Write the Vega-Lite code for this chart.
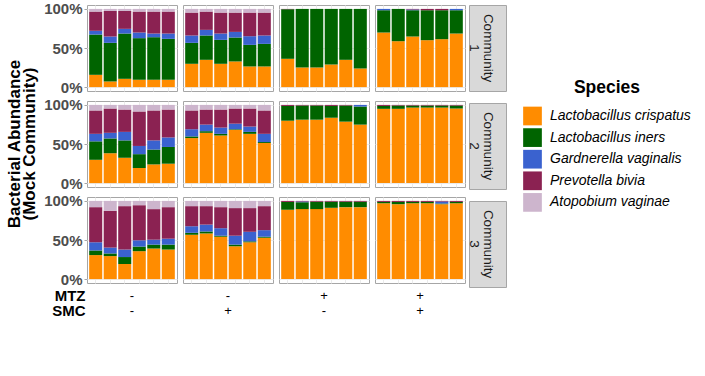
{
  "$schema": "https://vega.github.io/schema/vega-lite/v6.json",
  "padding": {"left": 5, "top": 1, "right": 5, "bottom": 5},
  "background": "white",
  "config": {
    "font": "Liberation Sans",
    "view": {"stroke": "#a6a6a6", "strokeWidth": 1}
  },
  "datasets": {
    "species": [
      {"sp": "LC", "species": "Lactobacillus crispatus", "k": 1},
      {"sp": "LI", "species": "Lactobacillus iners", "k": 2},
      {"sp": "GV", "species": "Gardnerella vaginalis", "k": 3},
      {"sp": "PB", "species": "Prevotella bivia", "k": 4},
      {"sp": "AV", "species": "Atopobium vaginae", "k": 5}
    ],
    "strips": [
      {"c": "1", "label": "Community\n1"},
      {"c": "2", "label": "Community\n2"},
      {"c": "3", "label": "Community\n3"}
    ],
    "signs": [
      {"t": "MTZ- SMC-", "drug": "MTZ", "sign": "-"},
      {"t": "MTZ- SMC-", "drug": "SMC", "sign": "-"},
      {"t": "MTZ- SMC+", "drug": "MTZ", "sign": "-"},
      {"t": "MTZ- SMC+", "drug": "SMC", "sign": "+"},
      {"t": "MTZ+ SMC-", "drug": "MTZ", "sign": "+"},
      {"t": "MTZ+ SMC-", "drug": "SMC", "sign": "-"},
      {"t": "MTZ+ SMC+", "drug": "MTZ", "sign": "+"},
      {"t": "MTZ+ SMC+", "drug": "SMC", "sign": "+"}
    ],
    "abund": [
      {"c": "1", "t": "MTZ- SMC-", "r": 1, "LC": 15.7, "LI": 51.5, "GV": 4.8, "PB": 24.6, "AV": 3.4},
      {"c": "1", "t": "MTZ- SMC-", "r": 2, "LC": 7.2, "LI": 49.4, "GV": 8.1, "PB": 32.7, "AV": 2.6},
      {"c": "1", "t": "MTZ- SMC-", "r": 3, "LC": 10.6, "LI": 57.9, "GV": 6.0, "PB": 22.9, "AV": 2.6},
      {"c": "1", "t": "MTZ- SMC-", "r": 4, "LC": 9.4, "LI": 53.2, "GV": 7.2, "PB": 26.8, "AV": 3.4},
      {"c": "1", "t": "MTZ- SMC-", "r": 5, "LC": 9.4, "LI": 54.4, "GV": 4.7, "PB": 28.1, "AV": 3.4},
      {"c": "1", "t": "MTZ- SMC-", "r": 6, "LC": 9.4, "LI": 52.3, "GV": 6.8, "PB": 28.1, "AV": 3.4},
      {"c": "1", "t": "MTZ- SMC+", "r": 1, "LC": 29.8, "LI": 26.8, "GV": 9.4, "PB": 29.3, "AV": 4.7},
      {"c": "1", "t": "MTZ- SMC+", "r": 2, "LC": 34.9, "LI": 31.1, "GV": 7.2, "PB": 23.4, "AV": 3.4},
      {"c": "1", "t": "MTZ- SMC+", "r": 3, "LC": 29.8, "LI": 30.6, "GV": 8.1, "PB": 26.8, "AV": 4.7},
      {"c": "1", "t": "MTZ- SMC+", "r": 4, "LC": 32.8, "LI": 30.6, "GV": 7.2, "PB": 24.7, "AV": 4.7},
      {"c": "1", "t": "MTZ- SMC+", "r": 5, "LC": 26.4, "LI": 27.6, "GV": 11.1, "PB": 30.2, "AV": 4.7},
      {"c": "1", "t": "MTZ- SMC+", "r": 6, "LC": 26.4, "LI": 28.9, "GV": 10.7, "PB": 29.3, "AV": 4.7},
      {"c": "1", "t": "MTZ+ SMC-", "r": 1, "LC": 36.2, "LI": 63.4, "GV": 0, "PB": 0.4, "AV": 0},
      {"c": "1", "t": "MTZ+ SMC-", "r": 2, "LC": 25.1, "LI": 74.9, "GV": 0, "PB": 0, "AV": 0},
      {"c": "1", "t": "MTZ+ SMC-", "r": 3, "LC": 25.1, "LI": 74.9, "GV": 0, "PB": 0, "AV": 0},
      {"c": "1", "t": "MTZ+ SMC-", "r": 4, "LC": 28.9, "LI": 71.1, "GV": 0, "PB": 0, "AV": 0},
      {"c": "1", "t": "MTZ+ SMC-", "r": 5, "LC": 34.9, "LI": 65.1, "GV": 0, "PB": 0, "AV": 0},
      {"c": "1", "t": "MTZ+ SMC-", "r": 6, "LC": 23.8, "LI": 76.2, "GV": 0, "PB": 0, "AV": 0},
      {"c": "1", "t": "MTZ+ SMC+", "r": 1, "LC": 69.8, "LI": 28.5, "GV": 1.7, "PB": 0, "AV": 0},
      {"c": "1", "t": "MTZ+ SMC+", "r": 2, "LC": 58.7, "LI": 41.3, "GV": 0, "PB": 0, "AV": 0},
      {"c": "1", "t": "MTZ+ SMC+", "r": 3, "LC": 64.7, "LI": 33.6, "GV": 1.0, "PB": 0.7, "AV": 0},
      {"c": "1", "t": "MTZ+ SMC+", "r": 4, "LC": 60.0, "LI": 38.3, "GV": 0, "PB": 1.7, "AV": 0},
      {"c": "1", "t": "MTZ+ SMC+", "r": 5, "LC": 61.3, "LI": 37.0, "GV": 0, "PB": 1.7, "AV": 0},
      {"c": "1", "t": "MTZ+ SMC+", "r": 6, "LC": 68.5, "LI": 29.8, "GV": 1.7, "PB": 0, "AV": 0},
      {"c": "2", "t": "MTZ- SMC-", "r": 1, "LC": 29.8, "LI": 23.6, "GV": 9.6, "PB": 29.9, "AV": 7.1},
      {"c": "2", "t": "MTZ- SMC-", "r": 2, "LC": 38.2, "LI": 18.9, "GV": 7.2, "PB": 31.1, "AV": 4.6},
      {"c": "2", "t": "MTZ- SMC-", "r": 3, "LC": 32.4, "LI": 22.2, "GV": 10.9, "PB": 28.6, "AV": 5.9},
      {"c": "2", "t": "MTZ- SMC-", "r": 4, "LC": 19.3, "LI": 17.7, "GV": 10.5, "PB": 44.1, "AV": 8.4},
      {"c": "2", "t": "MTZ- SMC-", "r": 5, "LC": 23.9, "LI": 19.0, "GV": 11.7, "PB": 38.3, "AV": 7.1},
      {"c": "2", "t": "MTZ- SMC-", "r": 6, "LC": 24.8, "LI": 21.4, "GV": 12.2, "PB": 35.7, "AV": 5.9},
      {"c": "2", "t": "MTZ- SMC+", "r": 1, "LC": 57.6, "LI": 2.1, "GV": 9.2, "PB": 24.0, "AV": 7.1},
      {"c": "2", "t": "MTZ- SMC+", "r": 2, "LC": 64.3, "LI": 2.1, "GV": 8.4, "PB": 19.3, "AV": 5.9},
      {"c": "2", "t": "MTZ- SMC+", "r": 3, "LC": 60.9, "LI": 2.1, "GV": 8.0, "PB": 23.1, "AV": 5.9},
      {"c": "2", "t": "MTZ- SMC+", "r": 4, "LC": 68.1, "LI": 0.8, "GV": 7.1, "PB": 19.4, "AV": 4.6},
      {"c": "2", "t": "MTZ- SMC+", "r": 5, "LC": 63.0, "LI": 2.5, "GV": 6.8, "PB": 23.1, "AV": 4.6},
      {"c": "2", "t": "MTZ- SMC+", "r": 6, "LC": 51.3, "LI": 1.2, "GV": 10.5, "PB": 29.9, "AV": 7.1},
      {"c": "2", "t": "MTZ+ SMC-", "r": 1, "LC": 79.8, "LI": 18.9, "GV": 0, "PB": 1.3, "AV": 0},
      {"c": "2", "t": "MTZ+ SMC-", "r": 2, "LC": 81.1, "LI": 18.1, "GV": 0, "PB": 0.8, "AV": 0},
      {"c": "2", "t": "MTZ+ SMC-", "r": 3, "LC": 81.1, "LI": 18.1, "GV": 0, "PB": 0.8, "AV": 0},
      {"c": "2", "t": "MTZ+ SMC-", "r": 4, "LC": 83.6, "LI": 15.1, "GV": 0, "PB": 1.3, "AV": 0},
      {"c": "2", "t": "MTZ+ SMC-", "r": 5, "LC": 78.6, "LI": 20.6, "GV": 0, "PB": 0.8, "AV": 0},
      {"c": "2", "t": "MTZ+ SMC-", "r": 6, "LC": 74.8, "LI": 23.1, "GV": 2.1, "PB": 0, "AV": 0},
      {"c": "2", "t": "MTZ+ SMC+", "r": 1, "LC": 95.0, "LI": 3.7, "GV": 0, "PB": 1.3, "AV": 0},
      {"c": "2", "t": "MTZ+ SMC+", "r": 2, "LC": 95.0, "LI": 4.2, "GV": 0, "PB": 0.8, "AV": 0},
      {"c": "2", "t": "MTZ+ SMC+", "r": 3, "LC": 96.6, "LI": 2.6, "GV": 0, "PB": 0.8, "AV": 0},
      {"c": "2", "t": "MTZ+ SMC+", "r": 4, "LC": 96.6, "LI": 2.6, "GV": 0, "PB": 0.8, "AV": 0},
      {"c": "2", "t": "MTZ+ SMC+", "r": 5, "LC": 96.6, "LI": 2.6, "GV": 0, "PB": 0.8, "AV": 0},
      {"c": "2", "t": "MTZ+ SMC+", "r": 6, "LC": 95.4, "LI": 3.8, "GV": 0, "PB": 0.8, "AV": 0},
      {"c": "3", "t": "MTZ- SMC-", "r": 1, "LC": 30.7, "LI": 5.9, "GV": 10.5, "PB": 44.9, "AV": 8.0},
      {"c": "3", "t": "MTZ- SMC-", "r": 2, "LC": 29.4, "LI": 3.4, "GV": 7.5, "PB": 47.1, "AV": 12.6},
      {"c": "3", "t": "MTZ- SMC-", "r": 3, "LC": 19.3, "LI": 8.9, "GV": 9.6, "PB": 55.5, "AV": 6.7},
      {"c": "3", "t": "MTZ- SMC-", "r": 4, "LC": 35.7, "LI": 5.9, "GV": 8.0, "PB": 44.9, "AV": 5.5},
      {"c": "3", "t": "MTZ- SMC-", "r": 5, "LC": 39.1, "LI": 5.0, "GV": 6.3, "PB": 39.1, "AV": 10.5},
      {"c": "3", "t": "MTZ- SMC-", "r": 6, "LC": 37.8, "LI": 6.3, "GV": 7.6, "PB": 40.3, "AV": 8.0},
      {"c": "3", "t": "MTZ- SMC+", "r": 1, "LC": 56.7, "LI": 2.5, "GV": 8.4, "PB": 25.7, "AV": 6.7},
      {"c": "3", "t": "MTZ- SMC+", "r": 2, "LC": 58.4, "LI": 2.5, "GV": 8.8, "PB": 23.6, "AV": 6.7},
      {"c": "3", "t": "MTZ- SMC+", "r": 3, "LC": 54.2, "LI": 1.3, "GV": 9.6, "PB": 26.9, "AV": 8.0},
      {"c": "3", "t": "MTZ- SMC+", "r": 4, "LC": 42.0, "LI": 2.1, "GV": 11.4, "PB": 35.3, "AV": 9.2},
      {"c": "3", "t": "MTZ- SMC+", "r": 5, "LC": 47.1, "LI": 1.2, "GV": 12.2, "PB": 30.3, "AV": 9.2},
      {"c": "3", "t": "MTZ- SMC+", "r": 6, "LC": 52.9, "LI": 1.3, "GV": 8.4, "PB": 30.7, "AV": 6.7},
      {"c": "3", "t": "MTZ+ SMC-", "r": 1, "LC": 88.7, "LI": 10.0, "GV": 0, "PB": 1.3, "AV": 0},
      {"c": "3", "t": "MTZ+ SMC-", "r": 2, "LC": 89.5, "LI": 8.8, "GV": 1.0, "PB": 0.7, "AV": 0},
      {"c": "3", "t": "MTZ+ SMC-", "r": 3, "LC": 89.5, "LI": 9.5, "GV": 0, "PB": 1.0, "AV": 0},
      {"c": "3", "t": "MTZ+ SMC-", "r": 4, "LC": 91.2, "LI": 7.8, "GV": 0, "PB": 1.0, "AV": 0},
      {"c": "3", "t": "MTZ+ SMC-", "r": 5, "LC": 92.0, "LI": 7.0, "GV": 0, "PB": 1.0, "AV": 0},
      {"c": "3", "t": "MTZ+ SMC-", "r": 6, "LC": 92.0, "LI": 7.0, "GV": 0, "PB": 1.0, "AV": 0},
      {"c": "3", "t": "MTZ+ SMC+", "r": 1, "LC": 97.0, "LI": 1.7, "GV": 0, "PB": 1.3, "AV": 0},
      {"c": "3", "t": "MTZ+ SMC+", "r": 2, "LC": 95.8, "LI": 2.9, "GV": 0, "PB": 1.3, "AV": 0},
      {"c": "3", "t": "MTZ+ SMC+", "r": 3, "LC": 97.0, "LI": 1.7, "GV": 0, "PB": 1.3, "AV": 0},
      {"c": "3", "t": "MTZ+ SMC+", "r": 4, "LC": 97.0, "LI": 1.7, "GV": 0, "PB": 1.3, "AV": 0},
      {"c": "3", "t": "MTZ+ SMC+", "r": 5, "LC": 95.8, "LI": 0.8, "GV": 2.6, "PB": 0.8, "AV": 0},
      {"c": "3", "t": "MTZ+ SMC+", "r": 6, "LC": 97.0, "LI": 1.7, "GV": 0, "PB": 1.3, "AV": 0}
    ]
  },
  "columns": 2,
  "align": "each",
  "spacing": {"row": 0, "column": 0},
  "concat": [
    {
      "data": {"name": "abund"},
      "transform": [
        {"fold": ["LC", "LI", "GV", "PB", "AV"], "as": ["sp", "v"]},
        {"lookup": "sp", "from": {"data": {"name": "species"}, "key": "sp", "fields": ["species", "k"]}}
      ],
      "bounds": "flush",
      "facet": {
        "row": {
          "field": "c", "type": "nominal",
          "header": {
            "title": ["Bacterial Abundance", "(Mock Community)"],
            "labels": false,
            "titleFontSize": 17,
            "titleFontWeight": "bold",
            "titleColor": "black",
            "titleLineHeight": 15.5,
            "titlePadding": -6
          }
        },
        "column": {
          "field": "t", "type": "nominal",
          "sort": ["MTZ- SMC-", "MTZ- SMC+", "MTZ+ SMC-", "MTZ+ SMC+"],
          "header": {"title": null, "labels": false}
        }
      },
      "spacing": {"row": 10, "column": 6},
      "spec": {
        "width": 90,
        "height": 86,
        "mark": {"type": "bar"},
        "encoding": {
          "x": {
            "field": "r", "type": "ordinal",
            "scale": {"paddingInner": 0.1, "paddingOuter": 0.15},
            "axis": {"title": null, "labels": false, "ticks": false, "domain": false, "grid": true, "gridColor": "#ebebeb", "bandPosition": 0.5}
          },
          "y": {
            "field": "v", "type": "quantitative", "stack": "zero",
            "scale": {"domain": [-5, 105], "nice": false, "zero": false},
            "axis": {
              "title": null,
              "values": [0, 50, 100],
              "labelExpr": "datum.value + '%'",
              "labelFontSize": 15,
              "labelFontWeight": "bold",
              "labelColor": "#4d4d4d",
              "tickColor": "#a6a6a6",
              "tickSize": 3,
              "labelPadding": 2,
              "domain": false,
              "gridColor": "#ebebeb"
            }
          },
          "color": {
            "field": "species", "type": "nominal",
            "scale": {
              "domain": ["Lactobacillus crispatus", "Lactobacillus iners", "Gardnerella vaginalis", "Prevotella bivia", "Atopobium vaginae"],
              "range": ["#FF8C00", "#006400", "#3A62CF", "#8B2252", "#CDB5CD"]
            },
            "legend": {
              "title": "Species",
              "orient": "none",
              "legendX": 436,
              "legendY": 74,
              "symbolType": "square",
              "symbolSize": 350,
              "symbolStrokeWidth": 0,
              "symbolOpacity": 1,
              "labelFontStyle": "italic",
              "labelFontSize": 14,
              "labelColor": "black",
              "labelOffset": 8,
              "labelLimit": 300,
              "rowPadding": 2.6,
              "titleFontSize": 17.5,
              "titleFontWeight": "bold",
              "titleColor": "black",
              "titleAnchor": "middle",
              "titlePadding": 10
            }
          },
          "order": {"field": "k", "type": "quantitative", "sort": "ascending"}
        }
      }
    },
    {
      "data": {"name": "strips"},
      "facet": {
        "row": {"field": "c", "type": "nominal", "header": {"title": null, "labels": false}}
      },
      "spacing": 10,
      "spec": {
        "width": 37,
        "height": 86,
        "view": {"fill": "#d9d9d9", "stroke": "#a6a6a6"},
        "mark": {"type": "text", "angle": 90, "lineBreak": "\n", "fontSize": 13.5, "color": "#1a1a1a", "baseline": "middle", "align": "center", "lineHeight": 14},
        "encoding": {"text": {"field": "label", "type": "nominal"}}
      }
    },
    {
      "data": {"name": "signs"},
      "facet": {
        "column": {
          "field": "t", "type": "nominal",
          "sort": ["MTZ- SMC-", "MTZ- SMC+", "MTZ+ SMC-", "MTZ+ SMC+"],
          "header": {"title": null, "labels": false}
        }
      },
      "spacing": 6,
      "spec": {
        "width": 90,
        "height": 30,
        "view": {"stroke": null},
        "mark": {"type": "text", "fontSize": 13, "color": "black"},
        "encoding": {
          "y": {
            "field": "drug", "type": "nominal", "sort": ["MTZ", "SMC"],
            "axis": {"title": null, "ticks": false, "domain": false, "labelFontSize": 15, "labelFontWeight": "bold", "labelColor": "black", "labelPadding": 2}
          },
          "text": {"field": "sign", "type": "nominal"}
        }
      }
    }
  ]
}
